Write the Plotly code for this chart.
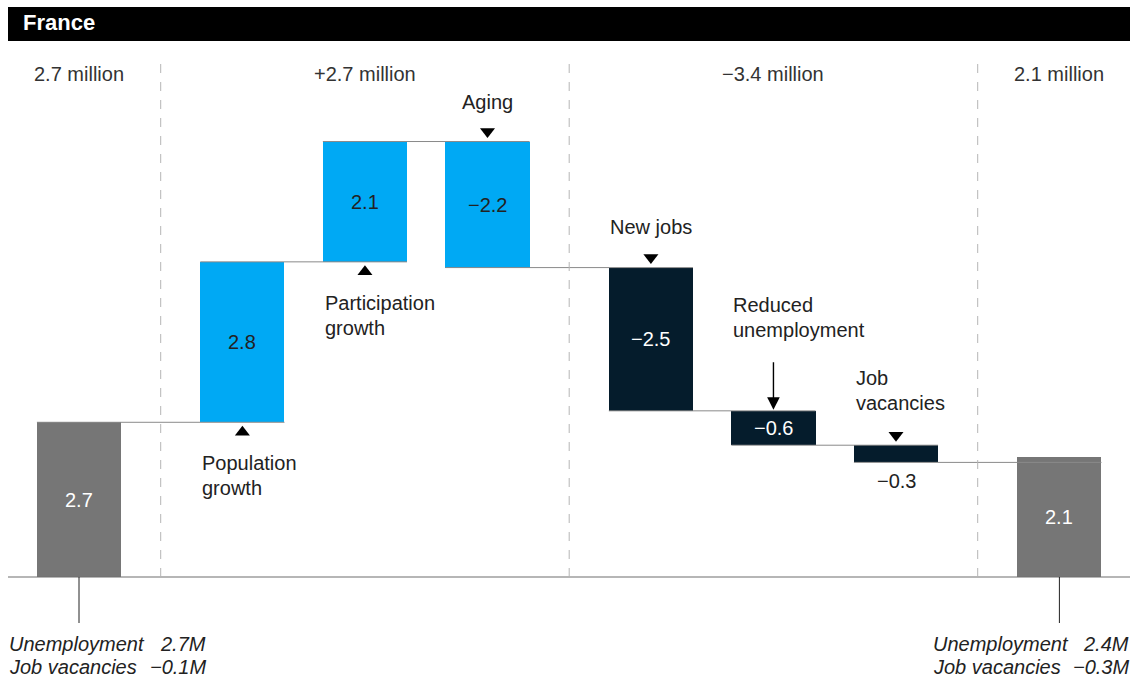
import plotly.graph_objects as go

# ---- data -------------------------------------------------------------
steps = ["Unemployment, start", "Population growth", "Participation growth", "Aging",
         "New jobs", "Reduced unemployment", "Job vacancies", "Unemployment, end"]
step_values = [2.7, 2.8, 2.1, -2.2, -2.5, -0.6, -0.3, 2.1]
step_kind = ["total", "delta", "delta", "delta", "delta", "delta", "delta", "total"]
step_group = ["start", "supply", "supply", "supply", "demand", "demand", "demand", "end"]

group_titles = ["2.7 million", "+2.7 million", "\u22123.4 million", "2.1 million"]
footer_start = [("Unemployment", "2.7M"), ("Job vacancies", "\u22120.1M")]
footer_end = [("Unemployment", "2.4M"), ("Job vacancies", "\u22120.3M")]

# ---- layout helpers ---------------------------------------------------
W, H = 1145, 679
FONT = "Liberation Sans, Arial, sans-serif"
TXT = "#222222"
FS = 20
COLORS = {"start": "#767676", "end": "#767676", "supply": "#00A9F4", "demand": "#051C2C"}

# horizontal slots: a wider gap between groups
slot = [0, 4, 7, 10, 14, 17, 20, 24]
SLOT_PX = 40.85
X0_PX = 79
BAR_W = 2.06
UNIT_PX = 57.3
BASE_PX = 577


def px(p):
    return p / W


def py(p):
    return 1 - p / H


def fmt(v):
    s = f"{abs(v):.1f}"
    return ("\u2212" + s) if v < 0 else s


# running bases for the waterfall
bases, ends = [], []
level = 0.0
for v, k in zip(step_values, step_kind):
    if k == "total":
        bases.append(0.0)
        level = v
    else:
        bases.append(level)
        level = level + v
    ends.append(level)

fig = go.Figure()
fig.add_trace(go.Bar(
    x=slot, y=step_values, base=bases, width=BAR_W,
    marker=dict(color=[COLORS[g] for g in step_group], line=dict(width=0)),
    hovertext=steps, showlegend=False,
))

shapes = []
annotations = []

# connectors between consecutive bars
for i in range(len(slot) - 1):
    lv = ends[i]
    shapes.append(dict(type="line", xref="x", yref="y",
                       x0=slot[i] - BAR_W / 2, x1=slot[i + 1] + BAR_W / 2, y0=lv, y1=lv,
                       line=dict(color="#8a8a8a", width=1), layer="above"))

# baseline
shapes.append(dict(type="line", xref="paper", yref="y", x0=px(8), x1=px(1130), y0=0, y1=0,
                   line=dict(color="#6f6f6f", width=1.2)))

# dashed group separators
for i in [0, 3, 6]:
    xm = (slot[i] + slot[i + 1]) / 2
    shapes.append(dict(type="line", xref="x", yref="paper", x0=xm, x1=xm,
                       y0=py(577), y1=py(62),
                       line=dict(color="#b5b5b5", width=1, dash="dash")))

# ticks under the total bars
for i in [0, 7]:
    shapes.append(dict(type="line", xref="x", yref="paper", x0=slot[i], x1=slot[i],
                       y0=py(623), y1=py(577), line=dict(color="#222", width=1)))

# header band
shapes.append(dict(type="rect", xref="paper", yref="paper", x0=px(8), x1=px(1130),
                   y0=py(41), y1=py(7), fillcolor="#000000", line=dict(width=0), layer="below"))
annotations.append(dict(xref="paper", yref="paper", x=px(21), y=py(23), text="<b>France</b>",
                        showarrow=False, xanchor="left", yanchor="middle",
                        font=dict(family=FONT, size=22, color="white")))

# group titles
title_slots = [slot[0], slot[2], slot[5], slot[7]]
for t, s in zip(group_titles, title_slots):
    annotations.append(dict(xref="x", yref="paper", x=s, y=py(74), text=t, showarrow=False,
                            xanchor="center", yanchor="middle",
                            font=dict(family=FONT, size=FS, color="#333333")))

# value labels
for i, v in enumerate(step_values):
    lo, hi = min(bases[i], bases[i] + v), max(bases[i], bases[i] + v)
    col = TXT
    if step_group[i] in ("start", "end", "demand"):
        col = "white"
    ymid = (lo + hi) / 2
    yshift = 0
    if steps[i] == "Job vacancies":
        ymid = lo
        yshift = -19
        col = TXT
    annotations.append(dict(xref="x", yref="y", x=slot[i], y=ymid, yshift=yshift, text=fmt(v),
                            showarrow=False, xanchor="center", yanchor="middle",
                            font=dict(family=FONT, size=FS, color=col)))

# triangle pointers
tri_up_x, tri_up_y, tri_dn_x, tri_dn_y = [], [], [], []
off = 10 / UNIT_PX
for i, name in enumerate(steps):
    lo = min(bases[i], bases[i] + step_values[i])
    hi = max(bases[i], bases[i] + step_values[i])
    if name in ("Population growth", "Participation growth"):
        tri_up_x.append(slot[i]); tri_up_y.append(lo - off)
    elif name in ("Aging", "New jobs", "Job vacancies"):
        tri_dn_x.append(slot[i]); tri_dn_y.append(hi + off)
fig.add_trace(go.Scatter(x=tri_up_x, y=tri_up_y, mode="markers", showlegend=False,
                         marker=dict(symbol="triangle-up", size=13, color="black")))
fig.add_trace(go.Scatter(x=tri_dn_x, y=tri_dn_y, mode="markers", showlegend=False,
                         marker=dict(symbol="triangle-down", size=13, color="black")))

# step labels
def step_label(i, lines, y_first, anchor="left"):
    x = slot[i] - BAR_W / 2 if anchor == "left" else slot[i]
    for k, line in enumerate(lines):
        annotations.append(dict(xref="x", yref="paper", x=x, y=py(y_first + 25 * k), text=line,
                                showarrow=False, xanchor=anchor, yanchor="middle",
                                font=dict(family=FONT, size=FS, color=TXT)))

step_label(1, ["Population", "growth"], 463)
step_label(2, ["Participation", "growth"], 303)
step_label(3, ["Aging"], 102, "center")
step_label(4, ["New jobs"], 227, "center")
step_label(5, ["Reduced", "unemployment"], 305)
step_label(6, ["Job", "vacancies"], 378)

# arrow for reduced unemployment
i_ru = steps.index("Reduced unemployment")
annotations.append(dict(xref="x", yref="y", x=slot[i_ru], y=bases[i_ru], text="",
                        showarrow=True, ax=0, ay=-50, arrowhead=2, arrowsize=1.8,
                        arrowwidth=1.4, arrowcolor="black", standoff=1))

# footers
def footer(rows, x_left, x_right):
    for k, (label, val) in enumerate(rows):
        y = py(644 + 23 * k)
        annotations.append(dict(xref="paper", yref="paper", x=px(x_left), y=y,
                                text=f"<i>{label}</i>", showarrow=False,
                                xanchor="left", yanchor="middle",
                                font=dict(family=FONT, size=FS, color=TXT)))
        annotations.append(dict(xref="paper", yref="paper", x=px(x_right), y=y,
                                text=f"<i>{val}</i>", showarrow=False,
                                xanchor="right", yanchor="middle",
                                font=dict(family=FONT, size=FS, color=TXT)))

footer(footer_start, 7, 208)
footer(footer_end, 931, 1131)

x_lo = -X0_PX / SLOT_PX
x_hi = (W - X0_PX) / SLOT_PX
y_hi = BASE_PX / UNIT_PX
y_lo = -(H - BASE_PX) / UNIT_PX

fig.update_layout(
    width=W, height=H, margin=dict(l=0, r=0, t=0, b=0),
    paper_bgcolor="white", plot_bgcolor="white",
    xaxis=dict(range=[x_lo, x_hi], visible=False, fixedrange=True),
    yaxis=dict(range=[y_lo, y_hi], visible=False, fixedrange=True),
    shapes=shapes, annotations=annotations, bargap=0,
    font=dict(family=FONT, color=TXT),
)

fig.write_html("out.html")
